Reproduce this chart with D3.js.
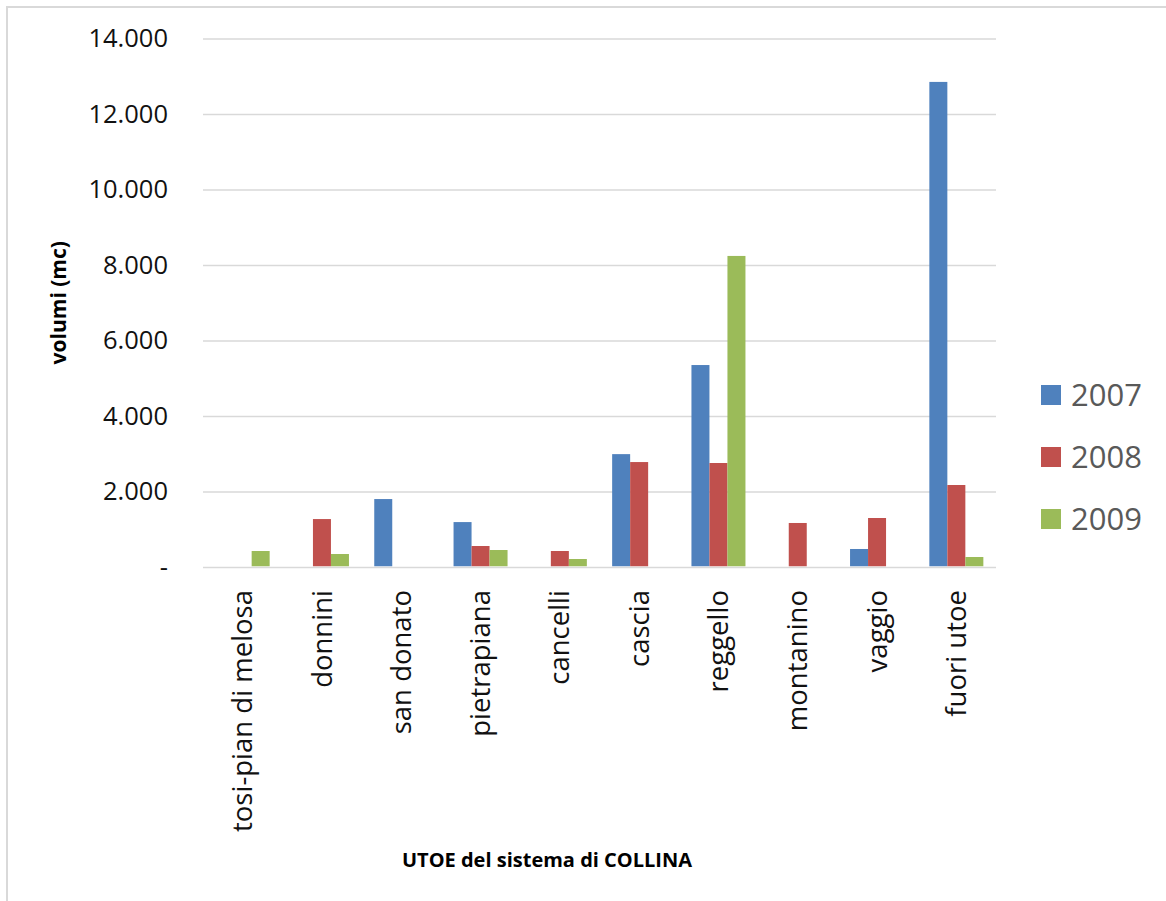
<!DOCTYPE html>
<html><head><meta charset="utf-8">
<script src="https://cdn.jsdelivr.net/npm/d3@7"></script>
<style>
html,body{margin:0;padding:0;background:#fff;}
svg{display:block;font-family:"Open Sans",sans-serif;}
</style></head>
<body>
<svg id="chart" width="1166" height="901"></svg>
<script>
const categories = ["tosi-pian di melosa","donnini","san donato","pietrapiana","cancelli","cascia","reggello","montanino","vaggio","fuori utoe"];
const seriesNames = ["2007","2008","2009"];
const values2007 = [null, null, 1800, 1190, null, 2990, 5350, null, 477, 12850];
const values2008 = [null, 1270, null, 556, 424, 2780, 2755, 1166, 1298, 2172];
const values2009 = [424, 344, null, 450, 212, null, 8240, null, null, 265];
const yTicks = [0, 2000, 4000, 6000, 8000, 10000, 12000, 14000];
const colors = ["#4F81BD", "#C0504D", "#9BBB59"];

const seriesValues = [values2007, values2008, values2009];
const svg = d3.select("#chart");

// chart border (light gray)
svg.append("rect").attr("x", 7).attr("y", 7).attr("width", 1200).attr("height", 1000)
  .attr("fill", "none").attr("stroke", "#d9d9d9").attr("stroke-width", 2);

const plot = {left: 203, right: 996, top: 38.5, bottom: 567};

const x0 = d3.scaleBand().domain(categories).range([plot.left, plot.right]).paddingInner(0).paddingOuter(0);
const bw = x0.bandwidth();
const groupW = bw * 0.681;
const x1 = d3.scaleBand().domain(seriesNames).range([(bw - groupW) / 2, (bw + groupW) / 2]).padding(0);
const y = d3.scaleLinear().domain([0, 14000]).range([plot.bottom, plot.top]);

const fmt = v => v === 0 ? "-" : d3.format(",")(v).replace(/,/g, ".");

// gridlines
const yAxis = d3.axisLeft(y).tickValues(yTicks).tickSize(-(plot.right - plot.left)).tickFormat(fmt).tickPadding(35);
const gy = svg.append("g").attr("transform", `translate(${plot.left},0)`).call(yAxis);
gy.select(".domain").remove();
gy.selectAll(".tick line").attr("stroke", "#d9d9d9").attr("stroke-width", 1.5);
gy.selectAll(".tick text").attr("font-size", 25.5).attr("fill", "#111").attr("font-family", "Open Sans");

// bars
const groups = svg.append("g").selectAll("g").data(categories).join("g")
  .attr("transform", d => `translate(${x0(d)},0)`);
groups.selectAll("rect").data((d, i) => seriesNames.map((s, k) => ({s, k, v: seriesValues[k][i]})).filter(e => e.v != null))
  .join("rect")
  .attr("x", e => x1(e.s))
  .attr("width", x1.bandwidth())
  .attr("y", e => y(e.v))
  .attr("height", e => y(0) - y(e.v) - 0.75)
  .attr("fill", e => colors[e.k]);

// x axis labels
const xAxis = d3.axisBottom(x0).tickSize(0).tickPadding(0);
const gx = svg.append("g").attr("transform", `translate(0,${plot.bottom})`).call(xAxis);
gx.select(".domain").remove();
gx.selectAll(".tick text")
  .attr("font-size", 27.5).attr("fill", "#111").attr("font-family", "Open Sans")
  .attr("text-anchor", "end")
  .attr("transform", "translate(0,23) rotate(-90)")
  .attr("dy", "0.35em").attr("y", 0).attr("x", 0);

// axis titles
svg.append("text").attr("x", 547).attr("y", 867).attr("text-anchor", "middle")
  .attr("font-size", 20).attr("font-weight", "bold").attr("fill", "#000")
  .text("UTOE del sistema di COLLINA");
svg.append("text").attr("transform", `translate(66,${(plot.top + plot.bottom) / 2}) rotate(-90)`)
  .attr("text-anchor", "middle").attr("font-size", 21).attr("font-weight", "bold").attr("fill", "#000")
  .text("volumi (mc)");

// legend
const legend = svg.append("g").selectAll("g").data(seriesNames).join("g")
  .attr("transform", (d, i) => `translate(1041,${395 + i * 62})`);
legend.append("rect").attr("x", 0).attr("y", -10).attr("width", 20).attr("height", 20)
  .attr("fill", (d, i) => colors[i]);
legend.append("text").attr("x", 30).attr("y", 0).attr("dy", "0.36em")
  .attr("font-size", 31).attr("fill", "#595959").text(d => d);
</script>
</body></html>
